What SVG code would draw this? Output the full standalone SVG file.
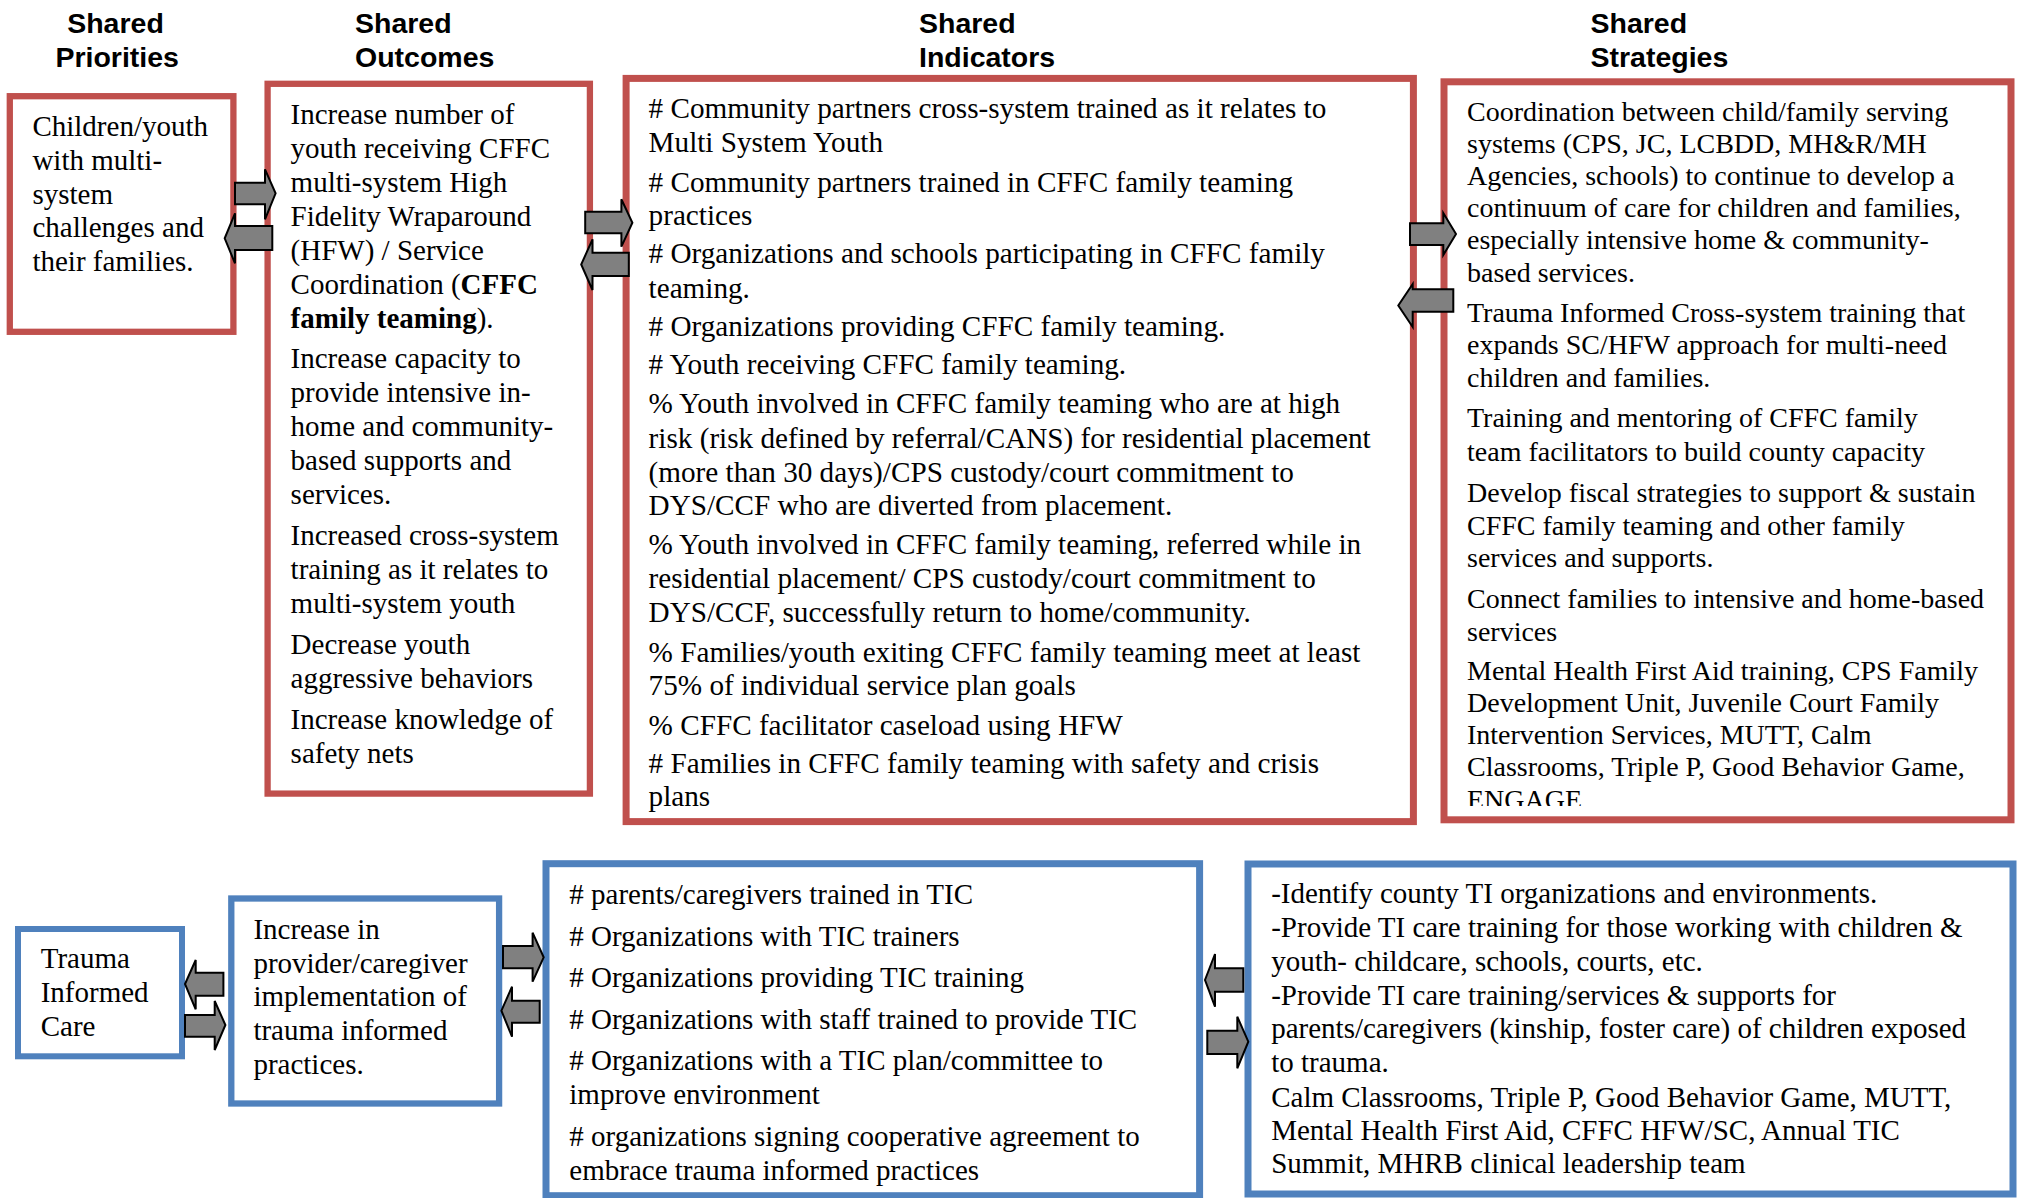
<svg xmlns="http://www.w3.org/2000/svg" width="2021" height="1198" viewBox="0 0 2021 1198">
<style>
.hd{font-family:"Liberation Sans",Arial,sans-serif;font-weight:bold;font-size:28.5px;fill:#000}
.tx{font-family:"Liberation Serif","Times New Roman",serif;font-size:29px;fill:#000}
.ti{font-family:"Liberation Serif","Times New Roman",serif;font-size:29.2px;fill:#000}
.ts{font-family:"Liberation Serif","Times New Roman",serif;font-size:28px;fill:#000}
.b{font-weight:bold}
.red{fill:#fff;stroke:#c0504d}
.blue{fill:#fff;stroke:#4f81bd}
.arr{fill:#808080;stroke:#000;stroke-width:2;stroke-linejoin:miter}
</style>
<defs>
<clipPath id="clipStr"><rect x="1440" y="78" width="580" height="728"/></clipPath>
</defs>
<rect x="0" y="0" width="2021" height="1198" fill="#fff"/>

<g id="headers">
<text class="hd"><tspan x="67.2" y="33.3">Shared</tspan><tspan x="55.4" y="66.7">Priorities</tspan></text>
<text class="hd"><tspan x="355" y="33.3">Shared</tspan><tspan x="355" y="66.7">Outcomes</tspan></text>
<text class="hd"><tspan x="919" y="33.3">Shared</tspan><tspan x="919" y="66.7">Indicators</tspan></text>
<text class="hd"><tspan x="1590.5" y="33.3">Shared</tspan><tspan x="1590.5" y="66.7">Strategies</tspan></text>
</g>

<g id="node-priorities">
<rect class="red" x="9.8" y="96.2" width="223.6" height="235.6" stroke-width="6.3"/>
<text class="tx">
<tspan x="32.4" y="136">Children/youth</tspan>
<tspan x="32.4" y="169.8">with multi-</tspan>
<tspan x="32.4" y="203.6">system</tspan>
<tspan x="32.4" y="237.4">challenges and</tspan>
<tspan x="32.4" y="271">their families.</tspan>
</text>
</g>

<g id="node-outcomes">
<rect class="red" x="267.6" y="83.8" width="322.3" height="709.8" stroke-width="6.3"/>
<text class="tx">
<tspan x="290.6" y="124">Increase number of</tspan>
<tspan x="290.6" y="158">youth receiving CFFC</tspan>
<tspan x="290.6" y="192">multi-system High</tspan>
<tspan x="290.6" y="226">Fidelity Wraparound</tspan>
<tspan x="290.6" y="260">(HFW) / Service</tspan>
<tspan x="290.6" y="294">Coordination (<tspan class="b">CFFC</tspan></tspan>
<tspan x="290.6" y="328"><tspan class="b">family teaming</tspan>).</tspan>
<tspan x="290.6" y="368">Increase capacity to</tspan>
<tspan x="290.6" y="402">provide intensive in-</tspan>
<tspan x="290.6" y="436">home and community-</tspan>
<tspan x="290.6" y="470">based supports and</tspan>
<tspan x="290.6" y="504">services.</tspan>
<tspan x="290.6" y="545">Increased cross-system</tspan>
<tspan x="290.6" y="579">training as it relates to</tspan>
<tspan x="290.6" y="613">multi-system youth</tspan>
<tspan x="290.6" y="654">Decrease youth</tspan>
<tspan x="290.6" y="688">aggressive behaviors</tspan>
<tspan x="290.6" y="729">Increase knowledge of</tspan>
<tspan x="290.6" y="763">safety nets</tspan>
</text>
</g>

<g id="node-indicators">
<rect class="red" x="626.1" y="78.4" width="787.3" height="743.2" stroke-width="7"/>
<text class="ti">
<tspan x="648.6" y="118.3"># Community partners cross-system trained as it relates to</tspan>
<tspan x="648.6" y="151.7">Multi System Youth</tspan>
<tspan x="648.6" y="191.7"># Community partners trained in CFFC family teaming</tspan>
<tspan x="648.6" y="225">practices</tspan>
<tspan x="648.6" y="263.3"># Organizations and schools participating in CFFC family</tspan>
<tspan x="648.6" y="297.7">teaming.</tspan>
<tspan x="648.6" y="336"># Organizations providing CFFC family teaming.</tspan>
<tspan x="648.6" y="374"># Youth receiving CFFC family teaming.</tspan>
<tspan x="648.6" y="413.3">% Youth involved in CFFC family teaming who are at high</tspan>
<tspan x="648.6" y="448.3">risk (risk defined by referral/CANS) for residential placement</tspan>
<tspan x="648.6" y="481.7">(more than 30 days)/CPS custody/court commitment to</tspan>
<tspan x="648.6" y="515">DYS/CCF who are diverted from placement.</tspan>
<tspan x="648.6" y="554">% Youth involved in CFFC family teaming, referred while in</tspan>
<tspan x="648.6" y="588.3">residential placement/ CPS custody/court commitment to</tspan>
<tspan x="648.6" y="621.7">DYS/CCF, successfully return to home/community.</tspan>
<tspan x="648.6" y="661.7">% Families/youth exiting CFFC family teaming meet at least</tspan>
<tspan x="648.6" y="695">75% of individual service plan goals</tspan>
<tspan x="648.6" y="735">% CFFC facilitator caseload using HFW</tspan>
<tspan x="648.6" y="772.7"># Families in CFFC family teaming with safety and crisis</tspan>
<tspan x="648.6" y="806">plans</tspan>
</text>
</g>

<g id="node-strategies">
<rect class="red" x="1444" y="81.8" width="567" height="738" stroke-width="7"/>
<text class="ts" clip-path="url(#clipStr)">
<tspan x="1467" y="120.7">Coordination between child/family serving</tspan>
<tspan x="1467" y="152.7">systems (CPS, JC, LCBDD, MH&amp;R/MH</tspan>
<tspan x="1467" y="185">Agencies, schools) to continue to develop a</tspan>
<tspan x="1467" y="217.3">continuum of care for children and families,</tspan>
<tspan x="1467" y="249.3">especially intensive home &amp; community-</tspan>
<tspan x="1467" y="281.7">based services.</tspan>
<tspan x="1467" y="321.7">Trauma Informed Cross-system training that</tspan>
<tspan x="1467" y="354">expands SC/HFW approach for multi-need</tspan>
<tspan x="1467" y="386.7">children and families.</tspan>
<tspan x="1467" y="427.3">Training and mentoring of CFFC family</tspan>
<tspan x="1467" y="460.5">team facilitators to build county capacity</tspan>
<tspan x="1467" y="501.7">Develop fiscal strategies to support &amp; sustain</tspan>
<tspan x="1467" y="535">CFFC family teaming and other family</tspan>
<tspan x="1467" y="567">services and supports.</tspan>
<tspan x="1467" y="608.3">Connect families to intensive and home-based</tspan>
<tspan x="1467" y="640.5">services</tspan>
<tspan x="1467" y="680">Mental Health First Aid training, CPS Family</tspan>
<tspan x="1467" y="712.3">Development Unit, Juvenile Court Family</tspan>
<tspan x="1467" y="744.3">Intervention Services, MUTT, Calm</tspan>
<tspan x="1467" y="776.3">Classrooms, Triple P, Good Behavior Game,</tspan>
<tspan x="1467" y="808.5">ENGAGE</tspan>
</text>
</g>

<g id="node-tic">
<rect class="blue" x="18" y="929" width="164" height="127.3" stroke-width="6"/>
<text class="tx">
<tspan x="40.7" y="968.3">Trauma</tspan>
<tspan x="40.7" y="1002.2">Informed</tspan>
<tspan x="40.7" y="1036">Care</tspan>
</text>
</g>

<g id="node-tic-outcome">
<rect class="blue" x="231.3" y="898.5" width="267.8" height="205" stroke-width="6.3"/>
<text class="tx">
<tspan x="253.4" y="938.7">Increase in</tspan>
<tspan x="253.4" y="972.5">provider/caregiver</tspan>
<tspan x="253.4" y="1006.3">implementation of</tspan>
<tspan x="253.4" y="1040">trauma informed</tspan>
<tspan x="253.4" y="1073.5">practices.</tspan>
</text>
</g>

<g id="node-tic-indicators">
<rect class="blue" x="546" y="863.7" width="653.6" height="332" stroke-width="7"/>
<text class="tx">
<tspan x="569.3" y="904"># parents/caregivers trained in TIC</tspan>
<tspan x="569.3" y="946"># Organizations with TIC trainers</tspan>
<tspan x="569.3" y="986.7"># Organizations providing TIC training</tspan>
<tspan x="569.3" y="1029"># Organizations with staff trained to provide TIC</tspan>
<tspan x="569.3" y="1070"># Organizations with a TIC plan/committee to</tspan>
<tspan x="569.3" y="1104">improve environment</tspan>
<tspan x="569.3" y="1146"># organizations signing cooperative agreement to</tspan>
<tspan x="569.3" y="1180">embrace trauma informed practices</tspan>
</text>
</g>

<g id="node-tic-strategies">
<rect class="blue" x="1248" y="864" width="765" height="330" stroke-width="7"/>
<text class="tx">
<tspan x="1271.2" y="903.3">-Identify county TI organizations and environments.</tspan>
<tspan x="1271.2" y="937.3">-Provide TI care training for those working with children &amp;</tspan>
<tspan x="1271.2" y="970.7">youth- childcare, schools, courts, etc.</tspan>
<tspan x="1271.2" y="1005">-Provide TI care training/services &amp; supports for</tspan>
<tspan x="1271.2" y="1038.3">parents/caregivers (kinship, foster care) of children exposed</tspan>
<tspan x="1271.2" y="1071.7">to trauma.</tspan>
<tspan x="1271.2" y="1106.7">Calm Classrooms, Triple P, Good Behavior Game, MUTT,</tspan>
<tspan x="1271.2" y="1140">Mental Health First Aid, CFFC HFW/SC, Annual TIC</tspan>
<tspan x="1271.2" y="1173.3">Summit, MHRB clinical leadership team</tspan>
</text>
</g>

<g id="connectors">
<polygon class="arr" points="235,182.7 265,182.7 265,169.3 275.6,193.3 265,219.3 265,204.3 235,204.3"/>
<polygon class="arr" points="272.3,226 235,226 235,213.3 224.7,238.3 235,263.3 235,250 272.3,250"/>
<polygon class="arr" points="585.2,211.7 621.4,211.7 621.4,199.3 632.4,222.7 621.4,246.7 621.4,233.3 585.2,233.3"/>
<polygon class="arr" points="628.8,252.7 592.5,252.7 592.5,239.3 581.2,264.5 592.5,290 592.5,276 628.8,276"/>
<polygon class="arr" points="1410,223.3 1443.3,223.3 1443.3,213 1456,234 1443.3,255 1443.3,245 1410,245"/>
<polygon class="arr" points="1453.3,289.3 1412.7,289.3 1412.7,284 1398.3,305.5 1412.7,327 1412.7,311.7 1453.3,311.7"/>
<polygon class="arr" points="223.4,972.7 195.7,972.7 195.7,960 185,984 195.7,1009.3 195.7,995.7 223.4,995.7"/>
<polygon class="arr" points="185,1015 214.7,1015 214.7,1001 225.4,1025 214.7,1050 214.7,1036.7 185,1036.7"/>
<polygon class="arr" points="503,946 532.6,946 532.6,932.7 543.7,957.3 532.6,981.7 532.6,968.3 503,968.3"/>
<polygon class="arr" points="539.7,1000.7 512,1000.7 512,986.7 501.4,1010.7 512,1036.7 512,1022.7 539.7,1022.7"/>
<polygon class="arr" points="1243.3,968.3 1215,968.3 1215,954 1205,980 1215,1006.7 1215,991.7 1243.3,991.7"/>
<polygon class="arr" points="1207.3,1030.7 1237.3,1030.7 1237.3,1016.7 1248.3,1041.7 1237.3,1068.3 1237.3,1054 1207.3,1054"/>
</g>
</svg>
